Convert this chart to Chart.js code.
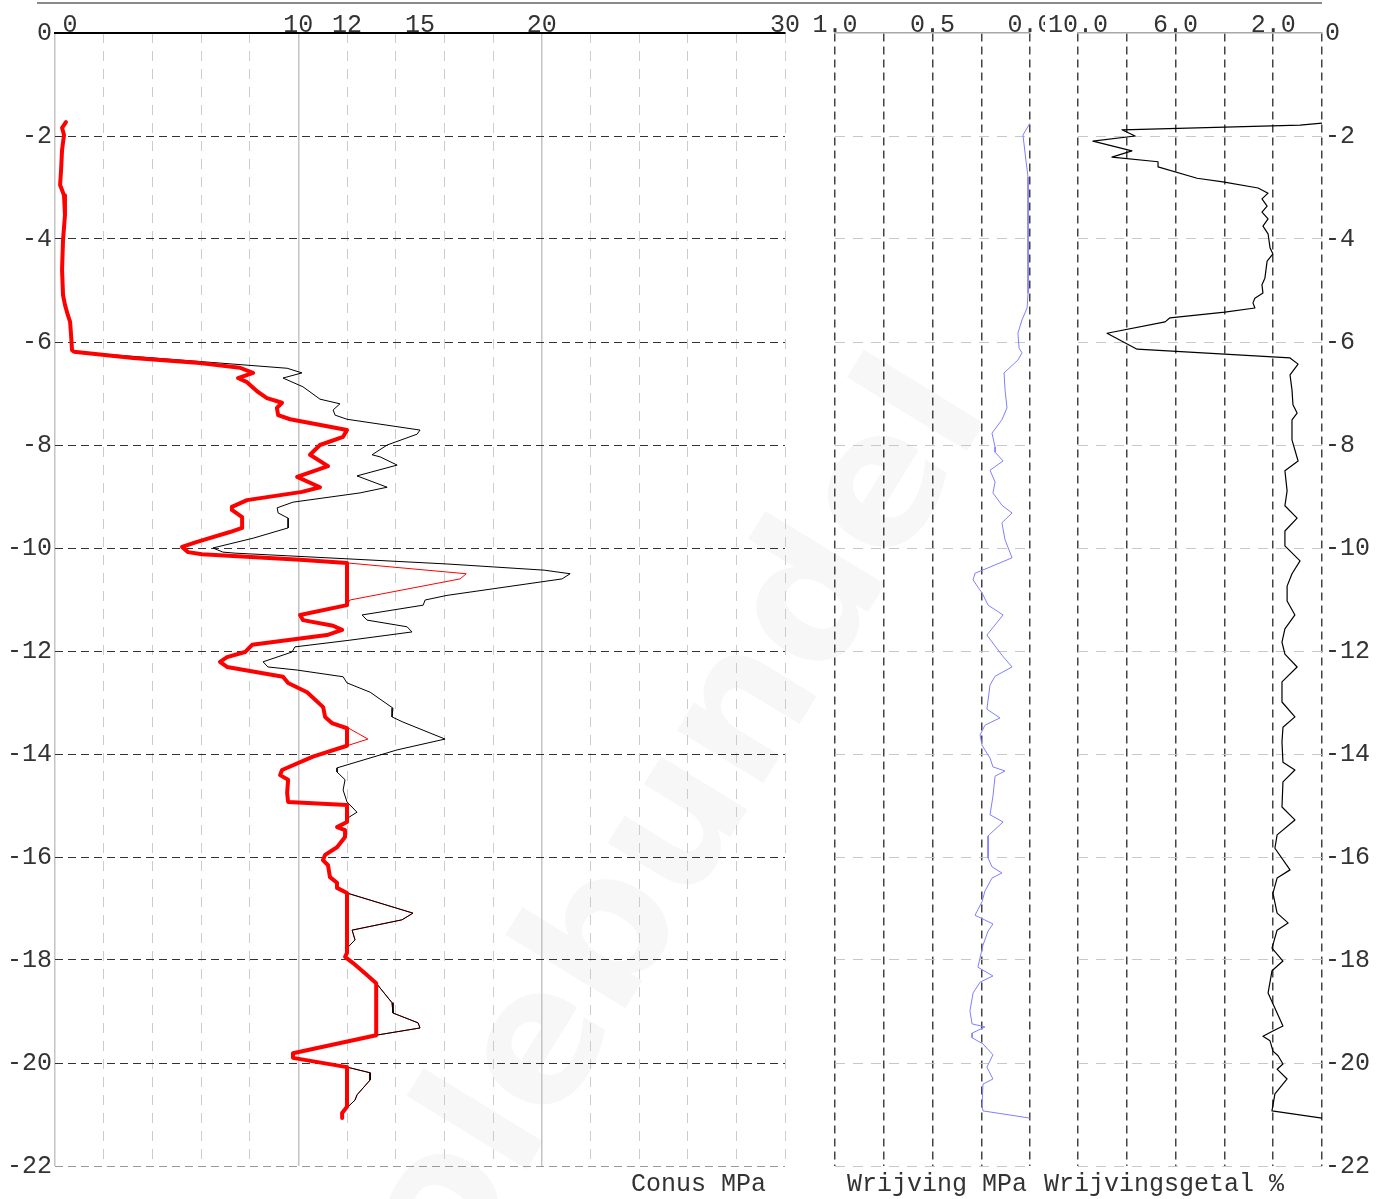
<!DOCTYPE html>
<html>
<head>
<meta charset="utf-8">
<title>Sondering</title>
<script src="https://cdn.jsdelivr.net/npm/chart.js@4.4.1/dist/chart.umd.min.js"></script>
<style>
  html, body { margin: 0; padding: 0; background: #ffffff; }
  #wrap { position: relative; width: 1389px; height: 1199px; overflow: hidden; }
  canvas { position: absolute; top: 0; }
  #cA { left: 0; }
  #cB { left: 800px; }
  #cC { left: 1045px; }
</style>
</head>
<body>
<div id="wrap">
  <canvas id="cA" width="1389" height="1199"></canvas>
  <canvas id="cB" width="245" height="1199"></canvas>
  <canvas id="cC" width="344" height="1199"></canvas>
</div>
<script>
// ---- tick labels ----
const conusTicks = [0, 10, 12, 15, 20, 30];
const conusGrid = [0, 2, 4, 6, 8, 10, 12, 14, 16, 18, 20, 22, 24, 26, 28, 30];
const frictionTicks = [1.0, 0.5, 0.0];
const frictionGrid = [0, 0.25, 0.5, 0.75, 1.0];
const ratioTicks = [10.0, 6.0, 2.0];
const ratioGrid = [0, 2, 4, 6, 8, 10];

// ---- measured cone resistance qc [depth m, MPa] ----
const conusProfile = [
  [-1.73,0.45],[-1.84,0.29],[-1.98,0.37],[-2.27,0.29],[-2.66,0.25],[-2.95,0.21],[-3.15,0.37],
  [-3.53,0.41],[-4.02,0.33],[-4.60,0.29],[-5.09,0.33],[-5.28,0.41],[-5.48,0.53],[-5.61,0.62],
  [-5.86,0.66],[-6.16,0.70],[-6.19,0.78],
  [-6.51,9.54],[-6.60,10.15],[-6.70,9.37],[-6.87,10.19],[-7.11,10.89],[-7.20,11.71],[-7.32,11.43],
  [-7.42,11.51],[-7.50,12.00],[-7.71,15.00],[-7.79,14.88],[-8.00,13.65],[-8.19,13.03],[-8.23,13.36],
  [-8.39,14.06],[-8.60,12.41],[-8.82,13.65],[-8.93,12.54],[-9.11,9.78],[-9.22,9.13],[-9.32,9.17],
  [-9.42,9.58],[-9.61,9.58],[-9.81,8.14],[-9.98,6.66],[-10.00,6.49],[-10.08,6.90],[-10.10,7.40],
  [-10.21,12.00],[-10.31,16.10],[-10.43,20.10],[-10.50,21.17],[-10.60,20.84],[-10.92,16.11],
  [-11.01,15.21],[-11.11,15.13],[-11.30,12.62],[-11.40,12.82],[-11.53,14.47],[-11.63,14.67],
  [-11.79,12.12],[-11.92,9.86],[-12.02,9.74],[-12.21,8.55],[-12.31,8.75],[-12.37,9.95],
  [-12.50,11.84],[-12.62,12.00],[-12.80,12.95],[-13.11,13.89],[-13.28,13.85],[-13.38,14.30],
  [-13.71,16.03],[-13.92,14.06],[-14.27,11.59],[-14.35,11.59],[-14.50,11.92],[-14.70,11.84],
  [-14.93,12.00],[-15.13,12.41],[-15.24,12.04],[-15.32,12.00],[-15.42,11.59],[-15.48,11.92],
  [-15.61,11.92],[-15.81,11.59],[-15.96,11.10],[-16.06,11.01],[-16.16,11.22],[-16.39,11.30],
  [-16.50,11.59],[-16.60,11.59],[-16.70,12.00],[-17.09,14.71],[-17.22,14.26],[-17.42,12.21],
  [-17.61,12.33],[-17.75,12.04],[-17.86,12.04],[-17.94,11.92],[-18.06,12.25],[-18.29,12.82],
  [-18.45,13.20],[-18.83,13.85],[-19.03,13.89],[-19.22,14.92],[-19.32,15.00],[-19.46,13.20],
  [-19.81,9.78],[-19.90,9.78],[-20.08,12.00],[-20.19,12.95],[-20.33,12.95],[-20.62,12.41],
  [-20.72,12.33],[-20.87,12.00],[-20.97,11.80],[-21.07,11.80]
];

// ---- reduced qc (thin red) [depth m, MPa] ----
const reducedProfile = [
  [-1.73,0.45],[-1.84,0.29],[-1.98,0.37],[-2.27,0.29],[-2.66,0.25],[-2.95,0.21],[-3.15,0.37],
  [-3.53,0.41],[-4.02,0.33],[-4.60,0.29],[-5.09,0.33],[-5.28,0.41],[-5.48,0.53],[-5.61,0.62],
  [-5.86,0.66],[-6.16,0.70],[-6.19,0.78],
  [-6.31,3.21],[-6.41,5.96],[-6.50,7.60],[-6.60,8.14],[-6.70,7.52],[-6.78,7.89],[-6.97,8.34],
  [-7.09,8.71],[-7.18,9.33],[-7.28,9.12],[-7.42,9.17],[-7.50,9.66],[-7.71,12.00],[-7.84,11.84],
  [-8.00,10.89],[-8.19,10.48],[-8.41,11.22],[-8.62,9.95],[-8.82,10.89],[-8.91,10.15],[-9.07,7.89],
  [-9.20,7.27],[-9.26,7.27],[-9.40,7.69],[-9.61,7.69],[-9.69,7.19],[-9.88,5.84],[-9.98,5.22],
  [-10.08,5.47],[-10.12,6.04],[-10.23,10.07],[-10.29,12.00],
  [-10.50,16.90],[-10.60,16.65],[-11.01,12.12],[-11.11,12.00],
  [-11.30,10.07],[-11.40,10.19],[-11.51,11.43],[-11.59,11.80],[-11.69,11.18],[-11.88,8.10],
  [-12.02,7.81],[-12.12,7.07],[-12.21,6.78],[-12.31,7.07],[-12.50,9.37],[-12.62,9.58],
  [-12.80,10.36],[-13.09,11.02],[-13.28,11.10],[-13.40,11.38],[-13.48,12.00],
  [-13.71,12.86],[-13.84,12.00],
  [-14.05,10.60],[-14.31,9.33],[-14.41,9.25],[-14.50,9.58],[-14.76,9.54],[-14.93,9.58],
  [-14.99,12.00],[-15.32,12.00],[-15.42,11.59],[-15.48,11.92],[-15.61,11.92],[-15.81,11.59],
  [-15.96,11.10],[-16.06,11.01],[-16.16,11.22],[-16.39,11.30],[-16.50,11.59],[-16.60,11.59],
  [-16.70,12.00],[-17.09,14.71],[-17.22,14.26],[-17.42,12.21],[-17.61,12.33],[-17.75,12.04],
  [-17.86,12.04],[-17.94,11.92],[-18.06,12.25],[-18.29,12.82],[-18.45,13.20],[-18.83,13.85],
  [-19.03,13.89],[-19.22,14.92],[-19.32,15.00],[-19.46,13.20],[-19.81,9.78],[-19.90,9.78],
  [-20.08,12.00],[-20.19,12.95],[-20.33,12.95],[-20.62,12.41],[-20.72,12.33],[-20.87,12.00],
  [-20.97,11.80],[-21.07,11.80]
];

// ---- design qc (thick red) [depth m, MPa] ----
const designProfile = [
  [-1.73,0.45],[-1.84,0.29],[-1.98,0.37],[-2.27,0.29],[-2.66,0.25],[-2.95,0.21],[-3.15,0.37],
  [-3.53,0.41],[-4.02,0.33],[-4.60,0.29],[-5.09,0.33],[-5.28,0.41],[-5.48,0.53],[-5.61,0.62],
  [-5.86,0.66],[-6.16,0.70],[-6.19,0.78],
  [-6.31,3.21],[-6.41,5.96],[-6.50,7.60],[-6.60,8.14],[-6.70,7.52],[-6.78,7.89],[-6.97,8.34],
  [-7.09,8.71],[-7.18,9.33],[-7.28,9.12],[-7.42,9.17],[-7.50,9.66],[-7.71,12.00],[-7.84,11.84],
  [-8.00,10.89],[-8.19,10.48],[-8.41,11.22],[-8.62,9.95],[-8.82,10.89],[-8.91,10.15],[-9.07,7.89],
  [-9.20,7.27],[-9.26,7.27],[-9.40,7.69],[-9.61,7.69],[-9.69,7.19],[-9.88,5.84],[-9.98,5.22],
  [-10.08,5.47],[-10.12,6.04],[-10.23,10.07],[-10.29,12.00],[-11.11,12.00],
  [-11.30,10.07],[-11.40,10.19],[-11.51,11.43],[-11.59,11.80],[-11.69,11.18],[-11.88,8.10],
  [-12.02,7.81],[-12.12,7.07],[-12.21,6.78],[-12.31,7.07],[-12.50,9.37],[-12.62,9.58],
  [-12.80,10.36],[-13.09,11.02],[-13.28,11.10],[-13.40,11.38],[-13.50,12.00],[-13.84,12.00],
  [-14.05,10.60],[-14.31,9.33],[-14.41,9.25],[-14.50,9.58],[-14.76,9.54],[-14.93,9.58],
  [-14.99,12.00],[-15.32,12.00],[-15.42,11.59],[-15.48,11.92],[-15.61,11.92],[-15.81,11.59],
  [-15.96,11.10],[-16.06,11.01],[-16.16,11.22],[-16.39,11.30],[-16.50,11.59],[-16.60,11.59],
  [-16.70,12.00],[-17.86,12.00],[-17.94,11.92],[-18.06,12.25],[-18.29,12.82],[-18.45,13.20],
  [-19.46,13.20],[-19.81,9.78],[-19.90,9.78],[-20.08,12.00],[-20.85,12.00],[-20.97,11.80],
  [-21.07,11.80]
];

// ---- sleeve friction fs [depth m, MPa] ----
const frictionProfile = [
  [-1.75,0.000],[-1.98,0.036],[-2.47,0.021],[-2.80,0.010],[-5.05,0.010],[-5.34,0.015],
  [-5.57,0.041],[-5.83,0.062],[-6.12,0.056],[-6.21,0.041],[-6.35,0.062],[-6.60,0.133],
  [-6.93,0.128],[-7.28,0.118],[-7.51,0.144],[-7.77,0.195],[-8.04,0.179],[-8.14,0.179],
  [-8.31,0.138],[-8.49,0.205],[-8.72,0.179],[-8.93,0.190],[-9.17,0.144],[-9.32,0.092],
  [-9.51,0.144],[-9.84,0.128],[-10.19,0.092],[-10.37,0.205],[-10.49,0.282],[-10.62,0.292],
  [-10.76,0.267],[-10.87,0.246],[-11.11,0.215],[-11.30,0.138],[-11.69,0.221],[-12.08,0.144],
  [-12.31,0.092],[-12.49,0.179],[-12.66,0.205],[-13.13,0.221],[-13.30,0.154],[-13.44,0.231],
  [-13.63,0.256],[-13.83,0.246],[-14.08,0.205],[-14.25,0.190],[-14.33,0.128],[-14.43,0.179],
  [-14.82,0.190],[-15.18,0.205],[-15.32,0.138],[-15.59,0.215],[-16.02,0.215],[-16.19,0.195],
  [-16.31,0.144],[-16.41,0.195],[-16.66,0.231],[-16.87,0.246],[-17.13,0.282],[-17.30,0.190],
  [-17.44,0.215],[-17.71,0.241],[-18.14,0.267],[-18.31,0.190],[-18.43,0.256],[-18.64,0.292],
  [-18.99,0.308],[-19.24,0.297],[-19.30,0.231],[-19.42,0.297],[-19.51,0.297],[-19.63,0.241],
  [-19.84,0.190],[-20.08,0.221],[-20.31,0.190],[-20.41,0.241],[-20.82,0.246],[-20.93,0.241],
  [-21.07,0.000]
];

// ---- friction ratio Rf [depth m, %] ----
const ratioProfile = [
  [-1.75,0.00],[-1.79,0.90],[-1.88,8.20],[-2.00,7.66],[-2.10,9.39],[-2.29,7.79],[-2.41,8.61],
  [-2.50,6.72],[-2.60,6.72],[-2.82,5.12],[-2.89,4.06],[-3.01,2.62],[-3.11,2.21],[-3.22,2.46],
  [-3.36,2.25],[-3.48,2.46],[-3.61,2.21],[-3.75,2.42],[-3.90,2.21],[-4.17,2.13],[-4.29,2.01],
  [-4.43,2.25],[-4.76,2.34],[-4.89,2.46],[-5.05,2.42],[-5.15,2.75],[-5.24,2.83],[-5.34,2.75],
  [-5.42,3.98],[-5.53,6.23],[-5.61,6.43],[-5.83,8.81],[-6.14,7.58],[-6.31,1.31],[-6.43,0.98],
  [-6.64,1.31],[-6.93,1.23],[-7.22,1.19],[-7.38,1.02],[-7.51,1.23],[-7.90,1.23],[-8.31,0.98],
  [-8.50,1.52],[-8.89,1.43],[-9.18,1.52],[-9.42,1.02],[-9.67,1.52],[-9.96,1.52],[-10.25,0.90],
  [-10.50,1.23],[-10.74,1.43],[-11.03,1.43],[-11.30,1.11],[-11.57,1.52],[-11.83,1.64],
  [-12.06,1.52],[-12.31,1.02],[-12.60,1.64],[-12.99,1.64],[-13.28,1.11],[-13.48,1.60],
  [-13.77,1.64],[-14.16,1.60],[-14.31,1.11],[-14.54,1.60],[-15.03,1.64],[-15.28,1.11],
  [-15.57,1.84],[-15.83,1.93],[-16.25,1.31],[-16.41,1.84],[-16.70,2.01],[-17.09,1.84],
  [-17.28,1.39],[-17.42,1.84],[-17.77,2.05],[-18.02,1.60],[-18.21,2.05],[-18.64,2.21],
  [-19.28,1.60],[-19.38,2.01],[-19.48,2.42],[-19.57,2.13],[-19.77,2.01],[-19.86,1.80],
  [-20.02,1.60],[-20.12,1.84],[-20.31,1.43],[-20.60,1.93],[-20.93,2.05],[-21.07,0.00]
];

const axisTitles = ['Conus MPa', 'Wrijving MPa', 'Wrijvingsgetal %'];
const watermarkText = 'Controlebundel';

// ---- shared styling ----
const MONO = "'Liberation Mono', 'DejaVu Sans Mono', monospace";
const TEXT = '#333333';
const tickFont = { family: MONO, size: 25 };

const toPoints = profile => profile.map(([d, v]) => ({ x: v, y: d }));

const line = (profile, color, width, xAxisID) => ({
  data: toPoints(profile),
  showLine: true,
  borderColor: color,
  borderWidth: width,
  pointRadius: 0,
  fill: false,
  tension: 0,
  borderJoinStyle: 'round',
  borderCapStyle: 'round',
  xAxisID: xAxisID || 'x',
  yAxisID: 'y'
});

const noPad = s => { s.paddingLeft = 0; s.paddingRight = 0; s.paddingTop = 0; s.paddingBottom = 0; };

const depthAxis = (opts) => Object.assign({
  type: 'linear', min: -22, max: 0,
  afterBuildTicks: s => {
    const t = [];
    for (let v = -22; v <= 0; v += 2) t.push({ value: v });
    s.ticks = t;
  }
}, opts);

const baseOptions = (padding) => ({
  responsive: false,
  animation: false,
  events: [],
  layout: { padding },
  plugins: { legend: { display: false }, tooltip: { enabled: false } }
});

// ---- panel 1: cone resistance ----
const frame = {
  id: 'frame',
  beforeDraw(chart) {
    const ctx = chart.ctx;
    ctx.save();
    ctx.translate(992, 410);
    ctx.rotate(-58.5 * Math.PI / 180);
    ctx.font = "bold 185px 'DejaVu Sans', sans-serif";
    ctx.fillStyle = '#f7f7f7';
    ctx.textAlign = 'right';
    ctx.textBaseline = 'alphabetic';
    ctx.fillText(watermarkText, 0, 0);
    ctx.restore();
  },
  afterDraw(chart) {
    const ctx = chart.ctx;
    ctx.save();
    ctx.strokeStyle = '#8a8a8a';
    ctx.lineWidth = 2;
    ctx.beginPath();
    ctx.moveTo(37, 3);
    ctx.lineTo(1322, 3);
    ctx.stroke();
    ctx.font = '25px ' + MONO;
    ctx.fillStyle = TEXT;
    ctx.textBaseline = 'alphabetic';
    ctx.textAlign = 'left';
    ctx.fillText(axisTitles[0], 631, 1191);
    ctx.fillText(axisTitles[1], 847, 1191);
    ctx.fillText(axisTitles[2], 1044, 1191);
    ctx.restore();
  }
};

new Chart(document.getElementById('cA'), {
  type: 'scatter',
  data: {
    datasets: [
      line(designProfile, '#ff0000', 4),
      line(conusProfile, '#000000', 1),
      line(reducedProfile, '#ff0000', 1)
    ]
  },
  options: Object.assign(baseOptions({ left: 0, right: 604, top: 0, bottom: 33 }), {
    scales: {
      x: {
        type: 'linear', position: 'top', min: 0, max: 30,
        afterBuildTicks: s => { s.ticks = conusTicks.map(v => ({ value: v })); },
        afterFit: s => { s.height = 33; noPad(s); },
        ticks: {
          autoSkip: false, maxRotation: 0, padding: -7, font: tickFont, color: TEXT,
          callback: v => (v === 0 ? '  0' : String(v))
        },
        grid: {
          drawTicks: false, lineWidth: 1.5,
          color: c => ([0, 10, 20].includes(c.tick.value) ? '#c4c4c4' : 'rgba(0,0,0,0)')
        },
        border: { display: true, color: '#000000', width: 2 }
      },
      xg: {
        type: 'linear', position: 'top', min: 0, max: 30,
        afterBuildTicks: s => { s.ticks = conusGrid.map(v => ({ value: v })); },
        afterFit: s => { s.height = 0; noPad(s); },
        ticks: { display: false },
        grid: {
          drawTicks: false, lineWidth: 1,
          color: c => ([0, 10, 20].includes(c.tick.value) ? 'rgba(0,0,0,0)' : '#cccccc')
        },
        border: { display: false, dash: [10, 8] }
      },
      y: depthAxis({
        position: 'left',
        afterFit: s => { s.width = 55; noPad(s); },
        ticks: { padding: 3, font: tickFont, color: TEXT },
        grid: {
          drawTicks: false, lineWidth: 1,
          color: c => (c.tick.value === -22 ? '#9a9a9a' : (c.tick.value === 0 ? 'rgba(0,0,0,0)' : '#333333'))
        },
        border: { display: false, dash: [8, 5] }
      })
    }
  }),
  plugins: [frame]
});

// ---- panels 2 and 3 share the dashed frame ----
const dashedPanelScales = (grid, ticks, min, max, yOpts) => ({
  x: {
    type: 'linear', position: 'top', min, max, reverse: true,
    afterBuildTicks: s => { s.ticks = grid.map(v => ({ value: v })); },
    afterFit: s => { s.height = 33; noPad(s); },
    ticks: {
      autoSkip: false, maxRotation: 0, padding: -7, font: tickFont, color: TEXT,
      callback: v => (ticks.some(t => Math.abs(t - v) < 1e-9) ? v.toFixed(1) : '')
    },
    grid: { drawTicks: false, lineWidth: 1.5, color: '#444444' },
    border: { display: true, color: '#a8a8a8', width: 1.5, dash: [8, 5] }
  },
  y: depthAxis(yOpts)
});

// ---- panel 2: sleeve friction ----
new Chart(document.getElementById('cB'), {
  type: 'scatter',
  data: { datasets: [ line(frictionProfile, '#7f7fff', 1) ] },
  options: Object.assign(baseOptions({ left: 35, right: 15, top: 0, bottom: 33 }), {
    scales: dashedPanelScales(frictionGrid, frictionTicks, 0, 1, {
      position: 'left',
      afterFit: s => { s.width = 0; noPad(s); },
      ticks: { display: false },
      grid: { drawTicks: false, lineWidth: 1, color: c => (c.tick.value === 0 ? 'rgba(0,0,0,0)' : '#c8c8c8') },
      border: { display: false, dash: [10, 8] }
    })
  })
});

// ---- panel 3: friction ratio ----
new Chart(document.getElementById('cC'), {
  type: 'scatter',
  data: { datasets: [ line(ratioProfile, '#000000', 1.2) ] },
  options: Object.assign(baseOptions({ left: 33, right: 0, top: 0, bottom: 33 }), {
    scales: dashedPanelScales(ratioGrid, ratioTicks, 0, 10, {
      position: 'right',
      afterFit: s => { s.width = 67; noPad(s); },
      ticks: { padding: 3, font: tickFont, color: TEXT },
      grid: { drawTicks: false, lineWidth: 1, color: c => (c.tick.value === 0 ? 'rgba(0,0,0,0)' : '#c8c8c8') },
      border: { display: false, dash: [10, 8] }
    })
  })
});
</script>
</body>
</html>
